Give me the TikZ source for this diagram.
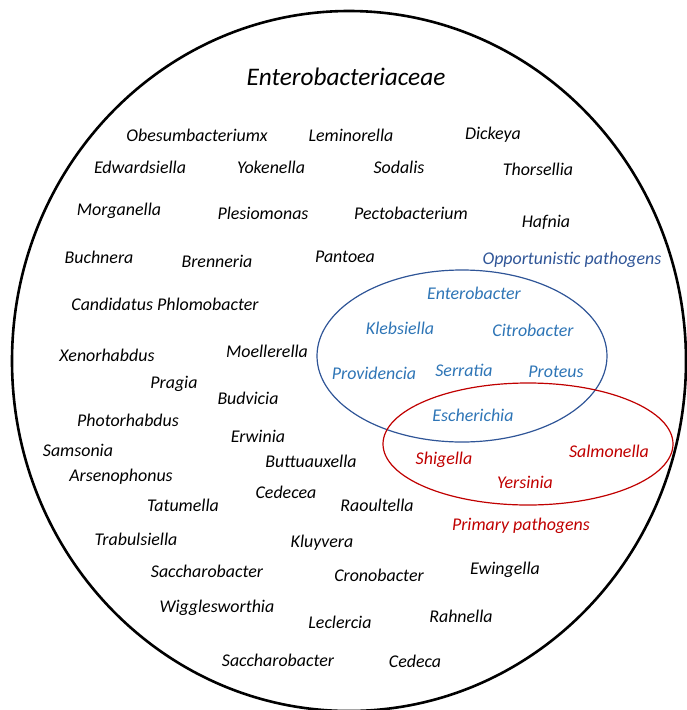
\documentclass[tikz,border=0pt]{standalone}
\usepackage{fontspec}
\setmainfont{Carlito}
\usetikzlibrary{shapes.geometric}
\definecolor{obl}{HTML}{2F5597}
\definecolor{tbl}{HTML}{2E75B6}
\definecolor{ored}{HTML}{C00000}
\begin{document}
\begin{tikzpicture}[x=1pt,y=-1pt,
  sp/.style={inner sep=0pt,font=\fontsize{17.9}{20}\selectfont\itshape,text=black},
  bl/.style={sp,text=tbl},
  rd/.style={sp,text=ored},
  ring/.style={ellipse,inner sep=0pt}]
\useasboundingbox (0,0) rectangle (687,710);
\node[ring,draw,line width=2.6pt,minimum width=674pt,minimum height=700pt] (fam) at (349,361) {};
\node[ring,draw=obl,line width=1.2pt,minimum width=290pt,minimum height=172pt] (opp) at (462,356) {};
\node[ring,draw=ored,line width=1.2pt,minimum width=290pt,minimum height=122pt] (pri) at (528,444) {};
\node[sp,font=\fontsize{25.3}{28}\selectfont\itshape] (title) at (346,77) {Enterobacteriaceae};
\node[sp] (n1) at (197,135) {Obesumbacteriumx};
\node[sp] (n2) at (351,135) {Leminorella};
\node[sp] (n3) at (493,135) {Dickeya};
\node[sp] (n4) at (140,167) {Edwardsiella};
\node[sp] (n5) at (271,167) {Yokenella};
\node[sp] (n6) at (399,167) {Sodalis};
\node[sp] (n7) at (538,169) {Thorsellia};
\node[sp] (n8) at (119,211) {Morganella};
\node[sp] (n9) at (263,213) {Plesiomonas};
\node[sp] (n10) at (411,213) {Pectobacterium};
\node[sp] (n11) at (546,222) {Hafnia};
\node[sp] (n12) at (99,257) {Buchnera};
\node[sp] (n13) at (217,261) {Brenneria};
\node[sp] (n14) at (345,257) {Pantoea};
\node[sp,text=obl] (oppl) at (572,260) {Opportunistic pathogens};
\node[sp] (n15) at (165,304) {Candidatus Phlomobacter};
\node[sp] (n16) at (107,355) {Xenorhabdus};
\node[sp] (n17) at (267,351) {Moellerella};
\node[sp] (n18) at (174,384) {Pragia};
\node[sp] (n19) at (248,398) {Budvicia};
\node[sp] (n20) at (128,420) {Photorhabdus};
\node[sp] (n21) at (258,436) {Erwinia};
\node[sp] (n22) at (78,450) {Samsonia};
\node[sp] (n23) at (311,461) {Buttuauxella};
\node[sp] (n24) at (121,477) {Arsenophonus};
\node[sp] (n25) at (286,492) {Cedecea};
\node[sp] (n26) at (183,505) {Tatumella};
\node[sp] (n27) at (377,505) {Raoultella};
\node[sp] (n28) at (136,539) {Trabulsiella};
\node[sp] (n29) at (322,543) {Kluyvera};
\node[rd] (pril) at (521,526) {Primary pathogens};
\node[sp] (n30) at (207,571) {Saccharobacter};
\node[sp] (n31) at (379,575) {Cronobacter};
\node[sp] (n32) at (505,570) {Ewingella};
\node[sp] (n33) at (217,608) {Wigglesworthia};
\node[sp] (n34) at (340,622) {Leclercia};
\node[sp] (n35) at (461,616) {Rahnella};
\node[sp] (n36) at (278,660) {Saccharobacter};
\node[sp] (n37) at (415,661) {Cedeca};
\node[bl] (b1) at (474,293) {Enterobacter};
\node[bl] (b2) at (400,328) {Klebsiella};
\node[bl] (b3) at (533,330) {Citrobacter};
\node[bl] (b4) at (374,373) {Providencia};
\node[bl] (b5) at (464,370) {Serratia};
\node[bl] (b6) at (556,372) {Proteus};
\node[bl] (b7) at (473,415) {Escherichia};
\node[rd] (r1) at (444,460) {Shigella};
\node[rd] (r2) at (609,451) {Salmonella};
\node[rd] (r3) at (525,482) {Yersinia};
\end{tikzpicture}
\end{document}
